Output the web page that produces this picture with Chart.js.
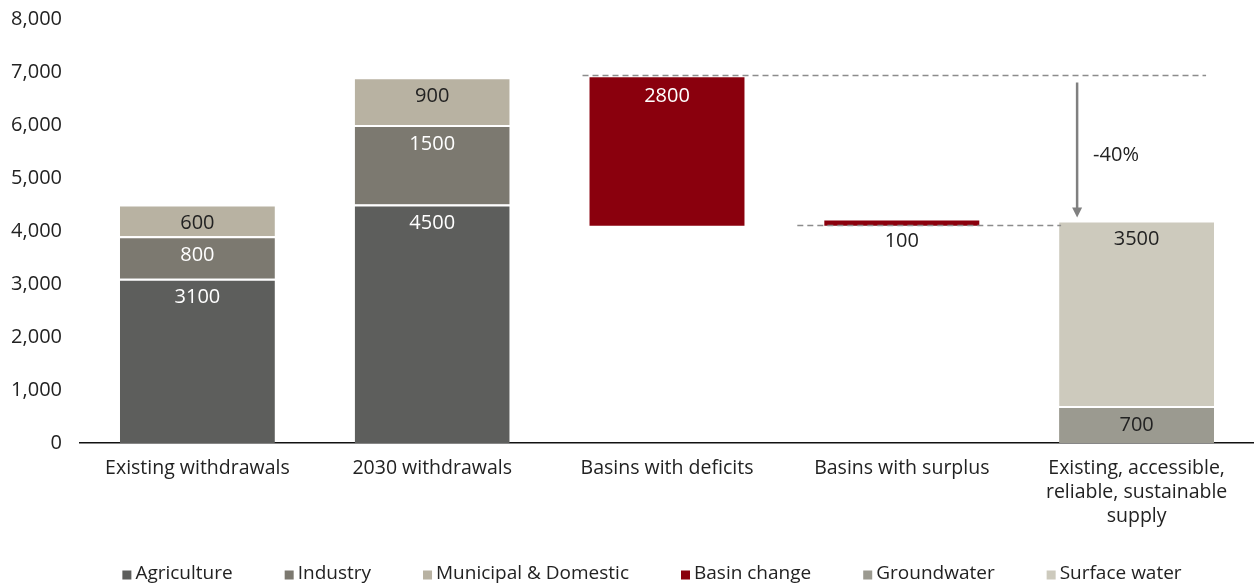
<!DOCTYPE html>
<html>
<head>
<meta charset="utf-8">
<script src="https://cdn.jsdelivr.net/npm/chart.js@4/dist/chart.umd.min.js"></script>
<style>
  html, body { margin: 0; padding: 0; background: #fff; }
  #wrap { width: 1254px; height: 587px; }
</style>
</head>
<body>
<div id="wrap"><canvas id="waterChart"></canvas></div>
<script>
// categories along the x axis
const categories = [
    'Existing withdrawals',
    '2030 withdrawals',
    'Basins with deficits',
    'Basins with surplus',
    ['Existing, accessible,', 'reliable, sustainable', 'supply']
];

// withdrawals by sector
const agriculture = [3100, 4500, null, null, null];
const industry = [800, 1500, null, null, null];
const municipal = [600, 900, null, null, null];

// basin change, floating bars [from, to]
const basinChange = [null, null, [4100, 6900], [4100, 4200], null];

// supply split
const groundwater = [null, null, null, null, 700];
const surfaceWater = [null, null, null, null, 3500];

const yTicks = [0, 1000, 2000, 3000, 4000, 5000, 6000, 7000, 8000];
const gapLabel = '-40%';

const FONT = '"Open Sans", "Noto Sans", sans-serif';
const TEXT = '#222222';

// value labels inside / under the bars
const barLabels = {
    id: 'barLabels',
    afterDatasetsDraw(chart) {
        const ctx = chart.ctx;
        ctx.save();
        ctx.font = '20px ' + FONT;
        ctx.textAlign = 'center';
        ctx.textBaseline = 'middle';
        chart.data.datasets.forEach((ds, di) => {
            const meta = chart.getDatasetMeta(di);
            meta.data.forEach((bar, i) => {
                const v = ds.data[i];
                if (v === null || v === undefined) return;
                const top = Math.min(bar.y, bar.base);
                const bottom = Math.max(bar.y, bar.base);
                const value = Array.isArray(v) ? v[1] - v[0] : v;
                const thin = bottom - top < 20;
                ctx.fillStyle = thin ? TEXT : ds.labelColor;
                ctx.fillText(String(value), bar.x, thin ? bottom + 16 : top + 19);
            });
        });
        ctx.restore();
    }
};

// dashed reference lines and the gap arrow
const gapMarks = {
    id: 'gapMarks',
    afterDatasetsDraw(chart) {
        const ctx = chart.ctx;
        const yS = chart.scales.y;
        const deficitBar = chart.getDatasetMeta(3).data[2];
        const surplusBar = chart.getDatasetMeta(3).data[3];
        const supplyBar = chart.getDatasetMeta(5).data[4];
        const demand = agriculture[1] + industry[1] + municipal[1];
        const yHigh = Math.round(yS.getPixelForValue(demand)) - 1.5;
        const yLow = Math.round(yS.getPixelForValue(basinChange[2][0])) - 0.5;

        ctx.save();
        ctx.strokeStyle = '#8c8c8c';
        ctx.lineWidth = 1.5;
        ctx.setLineDash([6, 4]);
        ctx.beginPath();
        ctx.moveTo(deficitBar.x - deficitBar.width / 2 - 7, yHigh);
        ctx.lineTo(supplyBar.x + supplyBar.width / 2 - 8, yHigh);
        ctx.moveTo(surplusBar.x - surplusBar.width / 2 - 27, yLow);
        ctx.lineTo(supplyBar.x - supplyBar.width / 2 + 2, yLow);
        ctx.stroke();

        // arrow
        const ax = supplyBar.x - supplyBar.width / 2 + 18;
        const y0 = yHigh + 7;
        const y1 = yS.getPixelForValue(groundwater[4] + surfaceWater[4]) - 3;
        ctx.setLineDash([]);
        ctx.strokeStyle = '#808080';
        ctx.fillStyle = '#808080';
        ctx.lineWidth = 2.5;
        ctx.beginPath();
        ctx.moveTo(ax, y0);
        ctx.lineTo(ax, y1 - 9);
        ctx.stroke();
        ctx.beginPath();
        ctx.moveTo(ax - 5, y1 - 10);
        ctx.lineTo(ax + 5, y1 - 10);
        ctx.lineTo(ax, y1);
        ctx.closePath();
        ctx.fill();

        ctx.font = '20px ' + FONT;
        ctx.fillStyle = TEXT;
        ctx.textAlign = 'left';
        ctx.textBaseline = 'middle';
        ctx.fillText(gapLabel, ax + 16, (y0 + y1) / 2 + 5);
        ctx.restore();
    }
};

// legend row at the bottom: small squares, wide gaps
const bottomLegend = {
    id: 'bottomLegend',
    afterDraw(chart) {
        const ctx = chart.ctx;
        const box = 9, gapText = 4, gapItem = 52;
        ctx.save();
        ctx.font = '19px ' + FONT;
        ctx.textBaseline = 'middle';
        ctx.textAlign = 'left';
        const items = chart.data.datasets.map(ds => ({
            text: ds.label, color: ds.backgroundColor,
            w: box + gapText + ctx.measureText(ds.label).width
        }));
        const total = items.reduce((s, it) => s + it.w, 0) + gapItem * (items.length - 1);
        let x = 652 - total / 2;
        const y = chart.height - 13;
        items.forEach(it => {
            ctx.fillStyle = it.color;
            ctx.fillRect(x, y - box / 2 + 1, box, box);
            ctx.fillStyle = TEXT;
            ctx.fillText(it.text, x + box + gapText, y);
            x += it.w + gapItem;
        });
        ctx.restore();
    }
};

function seg(label, data, color, labelColor) {
    return {
        label: label,
        data: data,
        backgroundColor: color,
        borderColor: '#ffffff',
        borderWidth: { top: 2, left: 0, right: 0, bottom: 0 },
        borderSkipped: false,
        labelColor: labelColor,
        categoryPercentage: 1,
        barPercentage: 0.66
    };
}

new Chart(document.getElementById('waterChart'), {
    type: 'bar',
    data: {
        labels: categories,
        datasets: [
            seg('Agriculture', agriculture, '#5d5e5c', '#ffffff'),
            seg('Industry', industry, '#7c7970', '#ffffff'),
            seg('Municipal & Domestic', municipal, '#b8b2a2', TEXT),
            Object.assign(seg('Basin change', basinChange, '#8a000d', '#ffffff'), { borderWidth: 0 }),
            seg('Groundwater', groundwater, '#9b9a90', TEXT),
            seg('Surface water', surfaceWater, '#cdcabd', TEXT)
        ]
    },
    options: {
        responsive: true,
        maintainAspectRatio: false,
        animation: false,
        layout: { padding: { top: 19, right: 0, bottom: 46, left: 0 } },
        plugins: {
            tooltip: { enabled: false },
            legend: { display: false }
        },
        scales: {
            x: {
                stacked: true,
                grid: { display: false, drawTicks: false },
                border: { display: true, color: '#111111', width: 1.5 },
                ticks: {
                    color: TEXT,
                    font: { family: FONT, size: 19.5, lineHeight: 1.23 },
                    padding: 13,
                    maxRotation: 0,
                    autoSkip: false
                }
            },
            y: {
                stacked: true,
                min: 0,
                max: 8000,
                afterBuildTicks(scale) {
                    scale.ticks = yTicks.map(v => ({ value: v }));
                },
                afterFit(scale) {
                    scale.width = 80;
                    scale.paddingTop = 0;
                    scale.paddingBottom = 0;
                },
                grid: { display: false, drawTicks: false },
                border: { display: false },
                ticks: {
                    color: TEXT,
                    font: { family: FONT, size: 20 },
                    padding: 18,
                    callback: v => v.toLocaleString('en-US')
                }
            }
        }
    },
    plugins: [barLabels, gapMarks, bottomLegend]
});
</script>
</body>
</html>
